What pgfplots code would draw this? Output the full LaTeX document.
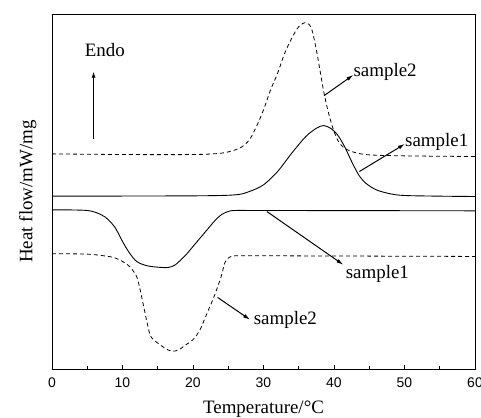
\documentclass[border=0pt]{standalone}
\usepackage{pgfplots}
\pgfplotsset{compat=1.18}
\usepackage{fontspec}
\setmainfont{Liberation Serif}
\newfontfamily\tickfont{Liberation Sans}
\usetikzlibrary{arrows.meta}
\begin{document}
\begin{tikzpicture}
\begin{axis}[
  scale only axis, width=423bp, height=355bp,
  xmin=0, xmax=60, ymin=42, ymax=1108, y dir=reverse,
  axis line style={line width=1pt},
  xtick={0,10,...,60}, minor xtick={5,15,...,55},
  xtick pos=bottom, xtick align=inside, ytick=\empty,
  major tick length=4bp, minor tick length=3bp,
  every tick/.style={black, line width=0.8pt},
  /pgf/number format/assume math mode=true,
  ticklabel style={font=\tickfont\fontsize{14}{16}\selectfont},
  xticklabel style={yshift=-5bp},
  xlabel={Temperature/\textdegree C},
  ylabel={Heat flow/mW/mg},
  label style={font=\fontsize{19}{22}\selectfont},
  xlabel style={yshift=-7bp},
  ylabel style={yshift=12bp},
  clip=false,
]
% upper sample1 (solid)
\addplot[black, line width=0.9pt, smooth] coordinates {
(0,589) (20,588) (26,585) (28,575) (30,555) (32,515) (34,460) (36,410) (37.5,385) (38.5,377) (39.5,385) (40.5,405) (41.5,440) (42.5,485) (43.5,525) (44.5,550) (46,570) (48,582) (50,587) (55,589) (60,590)};
% upper sample2 (dashed)
\addplot[black, line width=0.8pt, dash pattern=on 4bp off 3bp, smooth] coordinates {
(0,462) (10,464) (20,464) (24,460) (26,450) (27,440) (28,420) (29,380) (30,330) (31,270) (32,220) (33,160) (34,115) (35,80) (36,68) (36.8,85) (37.5,150) (38,210) (38.5,270) (39,320) (39.7,375) (40.5,420) (41.5,445) (43,458) (45,465) (50,468) (60,470)};
% lower sample1 (solid)
\addplot[black, line width=0.9pt, smooth] coordinates {
(0,630) (5,632) (7,645) (8,660) (9,685) (10,725) (11,760) (12,785) (13,795) (14,800) (15.5,803) (16.5,803) (17.5,795) (19,765) (20,740) (21,715) (22,690) (23,665) (24,645) (25,635) (26,632) (30,632) (60,633)};
% lower sample2 (dashed)
\addplot[black, line width=0.8pt, dash pattern=on 4bp off 3bp, smooth] coordinates {
(0,762) (5,763) (8,770) (9,775) (10,785) (11,800) (12,830) (12.5,870) (13,920) (13.5,970) (14,1010) (15,1030) (16,1045) (17,1055) (18,1050) (19,1035) (20,1020) (21,990) (22,940) (23,890) (24,830) (24.5,790) (25,775) (26,768) (30,768) (60,770)};
% annotations
\draw[line width=1pt, -{Latex[length=6bp,width=4bp]}] (axis cs:5.9,418) -- (axis cs:5.9,215);
\node[anchor=center, font=\fontsize{19}{22}\selectfont] at (axis cs:7.5,150) {Endo};
\draw[line width=1pt, -{Latex[length=7bp,width=4bp]}] (axis cs:38.6,287) -- (axis cs:42.75,225);
\node[anchor=west, inner sep=0pt, font=\fontsize{19}{22}\selectfont] at (axis cs:42.75,215) {sample2};
\draw[line width=1pt, -{Latex[length=7bp,width=4bp]}] (axis cs:43.6,515) -- (axis cs:50.07,432);
\node[anchor=west, inner sep=0pt, font=\fontsize{19}{22}\selectfont] at (axis cs:50.07,425) {sample1};
\draw[line width=1pt, -{Latex[length=7bp,width=4bp]}] (axis cs:30.47,635) -- (axis cs:41.33,795);
\node[anchor=center, inner sep=0pt, font=\fontsize{19}{22}\selectfont] at (axis cs:46.15,822) {sample1};
\draw[line width=1pt, -{Latex[length=7bp,width=4bp]}] (axis cs:23.48,893) -- (axis cs:28.1,960);
\node[anchor=west, inner sep=0pt, font=\fontsize{19}{22}\selectfont] at (axis cs:28.6,962) {sample2};
\end{axis}
\pgfresetboundingbox
\path[use as bounding box] (-52bp,-49bp) rectangle (429bp,369bp);
\end{tikzpicture}
\end{document}
